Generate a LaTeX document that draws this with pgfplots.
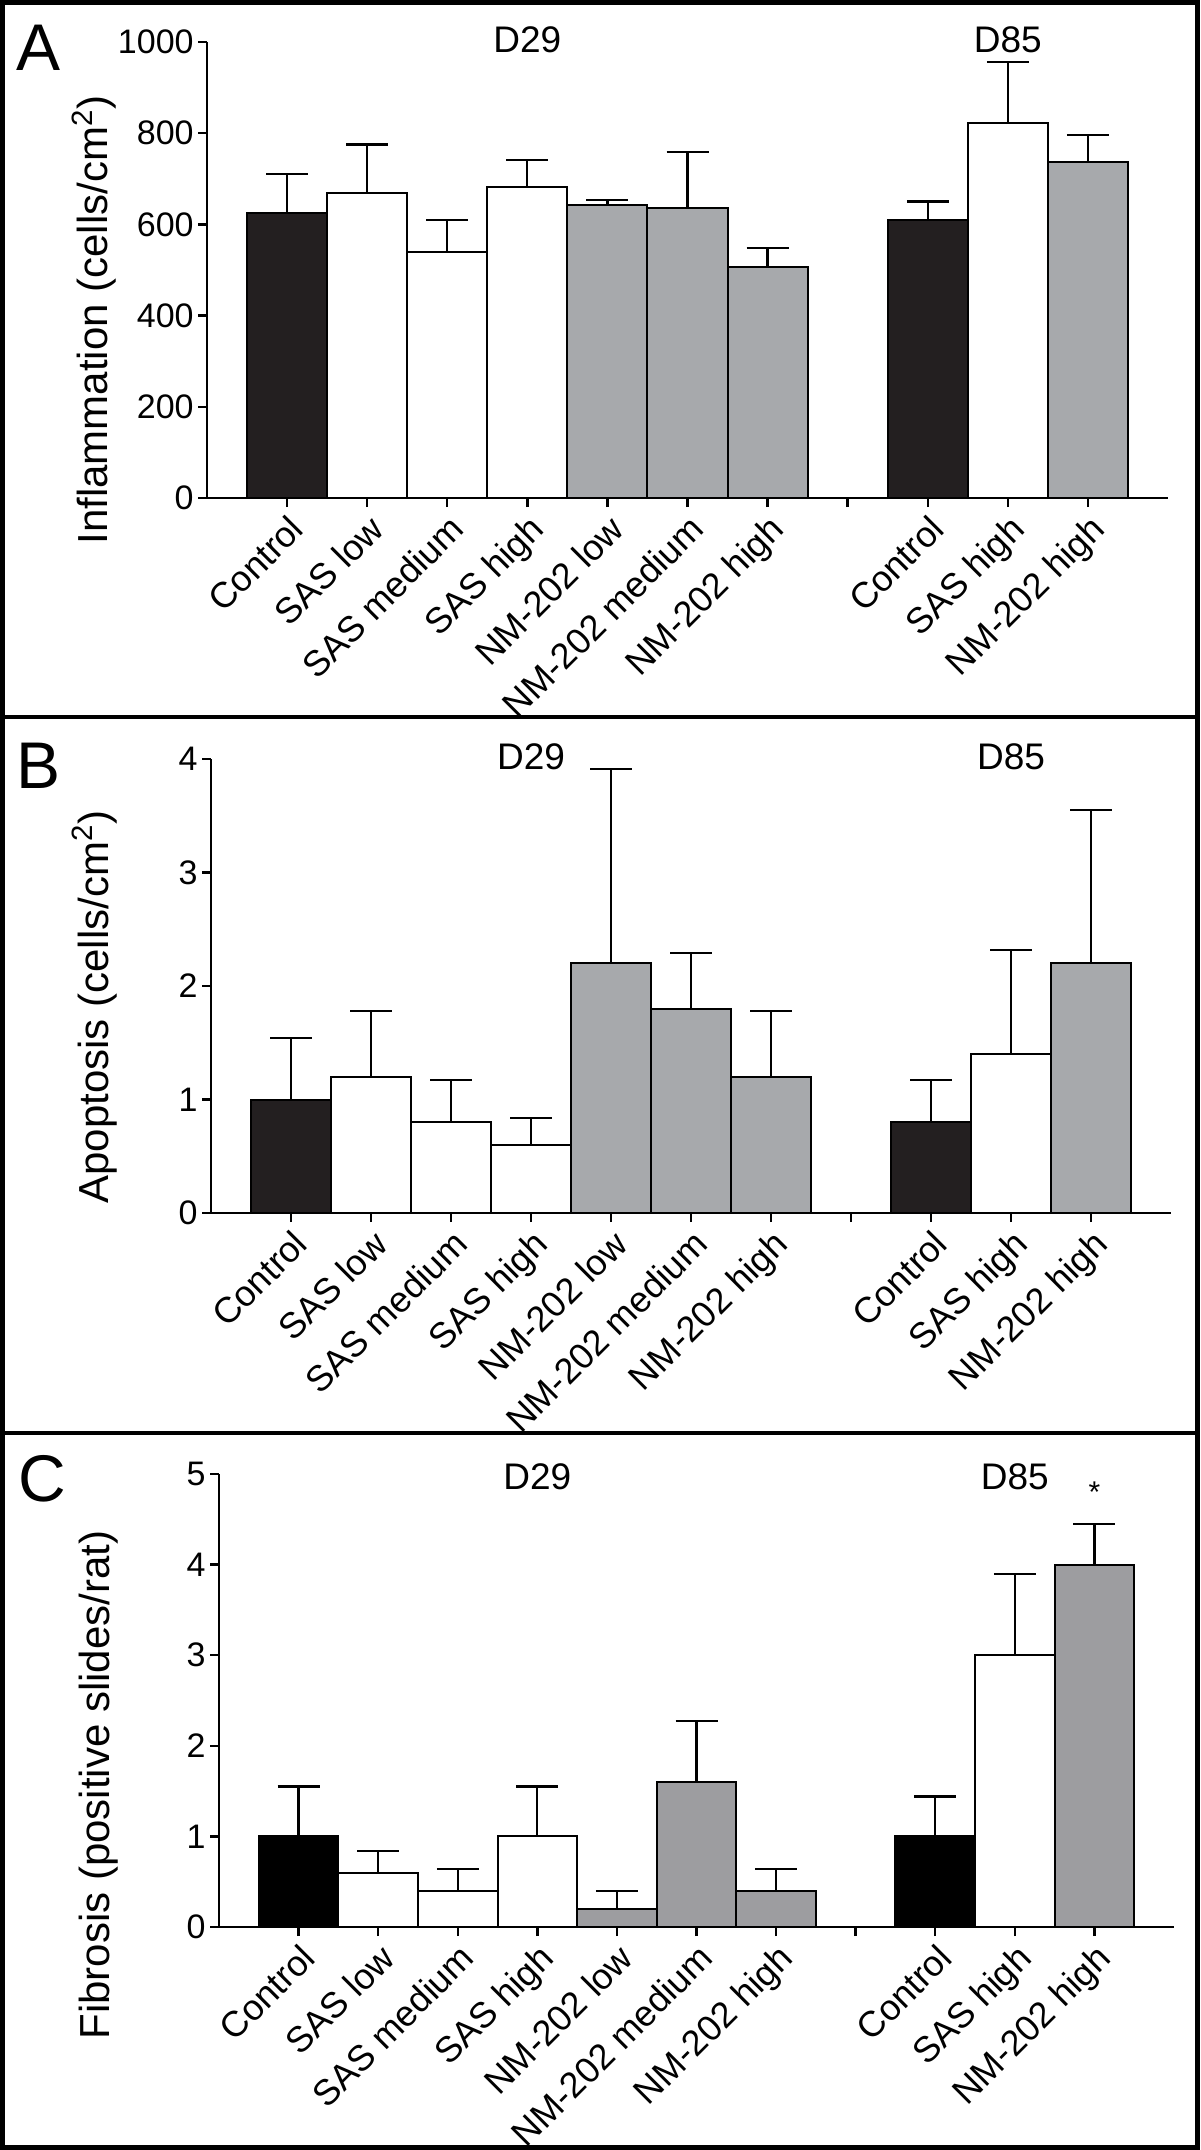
\documentclass[border=0pt]{standalone}
\usepackage{fontspec}
\setmainfont{Liberation Sans}
\usepackage{pgfplots}
\pgfplotsset{compat=1.18}
\usepackage{pgfplotstable}

% x: slot (7 is the gap between D29 and D85), y: mean, e: upper error
\pgfplotstableread{
x y e
0 625 86
8 610 40
}\inflctrl
\pgfplotstableread{
x y e
1 668 107
2 540 70
3 681 60
9 823 134
}\inflsas
\pgfplotstableread{
x y e
4 642 12
5 637 122
6 507 41
10 736 60
}\inflnm

\pgfplotstableread{
x y e
0 1.0 0.54
8 0.8 0.37
}\apoctrl
\pgfplotstableread{
x y e
1 1.2 0.58
2 0.8 0.37
3 0.6 0.24
9 1.4 0.92
}\aposas
\pgfplotstableread{
x y e
4 2.2 1.71
5 1.8 0.49
6 1.2 0.58
10 2.2 1.35
}\aponm

\pgfplotstableread{
x y e
0 1.0 0.55
8 1.0 0.44
}\fibctrl
\pgfplotstableread{
x y e
1 0.6 0.24
2 0.4 0.24
3 1.0 0.55
9 3.0 0.90
}\fibsas
\pgfplotstableread{
x y e
4 0.2 0.20
5 1.6 0.67
6 0.4 0.24
10 4.0 0.45
}\fibnm

\definecolor{barblack}{HTML}{231F20}
\definecolor{bargray}{HTML}{A7A9AC}
\definecolor{bargrayc}{HTML}{9D9DA0}

\newcommand{\tickfont}{\fontsize{17}{20}\selectfont}
\newcommand{\catfont}{\fontsize{18}{21}\selectfont}
\newcommand{\labfont}{\fontsize{21}{24}\selectfont}
\newcommand{\dayfont}{\fontsize{18.5}{22}\selectfont}
\newcommand{\letfont}{\fontsize{33}{38}\selectfont}

\pgfplotsset{
  panel/.style={
    scale only axis, anchor=south west,
    axis lines*=left, axis line style={line width=1.2pt},
    xmin=-1, xmax=11, ymin=0,
    xtick={0,...,10},
    xticklabels={Control,SAS low,SAS medium,SAS high,NM-202 low,NM-202 medium,NM-202 high,{},Control,SAS high,NM-202 high},
    tick align=outside, major tick length=4.5pt,
    tick style={line width=1.2pt, black},
    xticklabel style={rotate=45, anchor=north east, font=\catfont, inner sep=2pt},
    yticklabel style={font=\tickfont, inner sep=2pt},
    /pgf/number format/assume math mode=true,
    /pgf/number format/1000 sep={},
    clip=false,
  },
  bars/.style={ybar, bar width=1, bar shift=0pt, draw=black, line width=1pt,
    error bars/y dir=plus, error bars/y explicit,
    error bars/error bar style={line width=1.1pt, black},
    error bars/error mark options={rotate=90, line width=1.1pt, mark size=10.5pt, black}},
}

\begin{document}
\begin{tikzpicture}
\useasboundingbox (0pt,0pt) rectangle (600pt,-1075pt);
% panel frames
\draw[line width=2.4pt] (1.2pt,-1.2pt) rectangle (598.8pt,-1073.8pt);
\draw[line width=2.4pt] (0pt,-358.5pt) -- (600pt,-358.5pt);
\draw[line width=2.4pt] (0pt,-716.5pt) -- (600pt,-716.5pt);

% ---- A ----
\begin{axis}[panel, at={(103.5pt,-249pt)}, width=480.5pt, height=228pt,
    ymax=1000, ytick={0,200,...,1000}]
\addplot[bars, fill=barblack] table[x=x, y=y, y error=e] {\inflctrl};
\addplot[bars, fill=white] table[x=x, y=y, y error=e] {\inflsas};
\addplot[bars, fill=bargray] table[x=x, y=y, y error=e] {\inflnm};
\node[font=\dayfont, anchor=base] at (axis cs:3,977) {D29};
\node[font=\dayfont, anchor=base] at (axis cs:9,977) {D85};
\end{axis}
\node[font=\labfont, rotate=90, anchor=base] at (53.75pt,-160pt) {Inflammation (cells/cm\textsuperscript{2})};
\node[font=\letfont] at (19.5pt,-23.7pt) {A};

% ---- B ----
\begin{axis}[panel, at={(105.5pt,-606.5pt)}, width=480pt, height=227pt,
    ymax=4, ytick={0,...,4}]
\addplot[bars, fill=barblack] table[x=x, y=y, y error=e] {\apoctrl};
\addplot[bars, fill=white] table[x=x, y=y, y error=e] {\aposas};
\addplot[bars, fill=bargray] table[x=x, y=y, y error=e] {\aponm};
\node[font=\dayfont, anchor=base] at (axis cs:3,3.91) {D29};
\node[font=\dayfont, anchor=base] at (axis cs:9,3.91) {D85};
\end{axis}
\node[font=\labfont, rotate=90, anchor=base] at (54pt,-503.5pt) {Apoptosis (cells/cm\textsuperscript{2})};
\node[font=\letfont] at (19.5pt,-383pt) {B};

% ---- C ----
\begin{axis}[panel, at={(109.5pt,-963.5pt)}, width=477.5pt, height=226.5pt,
    ymax=5, ytick={0,...,5}]
\addplot[bars, fill=black] table[x=x, y=y, y error=e] {\fibctrl};
\addplot[bars, fill=white] table[x=x, y=y, y error=e] {\fibsas};
\addplot[bars, fill=bargrayc] table[x=x, y=y, y error=e] {\fibnm};
\node[font=\dayfont, anchor=base] at (axis cs:3,4.83) {D29};
\node[font=\dayfont, anchor=base] at (axis cs:9,4.83) {D85};
\node[font=\fontsize{15}{18}\selectfont] at (axis cs:10,4.8) {*};
\end{axis}
\node[font=\labfont, rotate=90, anchor=base] at (54.5pt,-892.5pt) {Fibrosis (positive slides/rat)};
\node[font=\letfont] at (21pt,-739.5pt) {C};
\end{tikzpicture}
\end{document}
